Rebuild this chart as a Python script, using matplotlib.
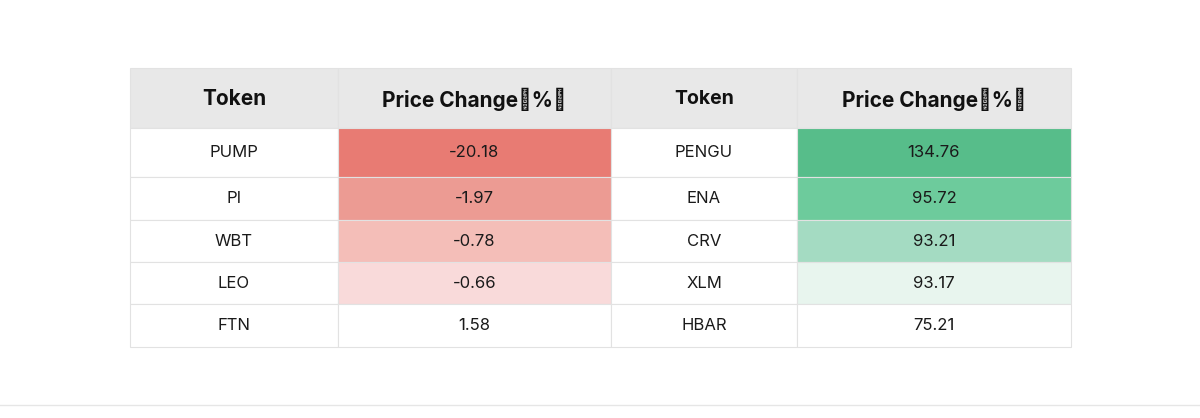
import matplotlib
matplotlib.use("Agg")
import matplotlib.pyplot as plt
from matplotlib.patches import Rectangle

plt.rcParams["font.family"] = ["Inter", "Noto Sans CJK SC"]

headers = ["Token", "Price Change（%）", "Token", "Price Change（%）"]
left_tokens = ["PUMP", "PI", "WBT", "LEO", "FTN"]
left_values = ["-20.18", "-1.97", "-0.78", "-0.66", "1.58"]
right_tokens = ["PENGU", "ENA", "CRV", "XLM", "HBAR"]
right_values = ["134.76", "95.72", "93.21", "93.17", "75.21"]
left_colors = ["#E87B73", "#EC9B93", "#F4BEB8", "#F9DADA", "#FFFFFF"]
right_colors = ["#57BD8A", "#6DCB9C", "#A4DBC2", "#E8F5EE", "#FFFFFF"]

W, H = 1200, 418
fig = plt.figure(figsize=(12, 4.18), dpi=100)
ax = fig.add_axes([0, 0, 1, 1])
ax.set_xlim(0, W)
ax.set_ylim(H, 0)
ax.axis("off")

col_x = [130, 338, 611, 797, 1071]
row_y = [68, 128, 177, 220, 262, 304, 347]
grid = "#E2E2E2"

# header
for c in range(4):
    ax.add_patch(Rectangle((col_x[c], row_y[0]), col_x[c + 1] - col_x[c], row_y[1] - row_y[0],
                           facecolor="#E8E8E8", edgecolor=grid, linewidth=0.8))
    size = 15 if c in (0, 1, 3) else 14
    ax.text((col_x[c] + col_x[c + 1]) / 2, (row_y[0] + row_y[1]) / 2 + 1, headers[c],
            ha="center", va="center", fontsize=size, fontweight="bold", color="#111111")

cols = [left_tokens, left_values, right_tokens, right_values]
for r in range(5):
    y0, y1 = row_y[r + 1], row_y[r + 2]
    fills = ["#FFFFFF", left_colors[r], "#FFFFFF", right_colors[r]]
    for c in range(4):
        ax.add_patch(Rectangle((col_x[c], y0), col_x[c + 1] - col_x[c], y1 - y0,
                               facecolor=fills[c], edgecolor=grid, linewidth=0.8))
        ax.text((col_x[c] + col_x[c + 1]) / 2, (y0 + y1) / 2, cols[c][r],
                ha="center", va="center", fontsize=12, color="#1A1A1A")

ax.plot([0, W], [405, 405], color="#E6E6E6", linewidth=1)

fig.savefig("out.png", dpi=100, facecolor="white")
